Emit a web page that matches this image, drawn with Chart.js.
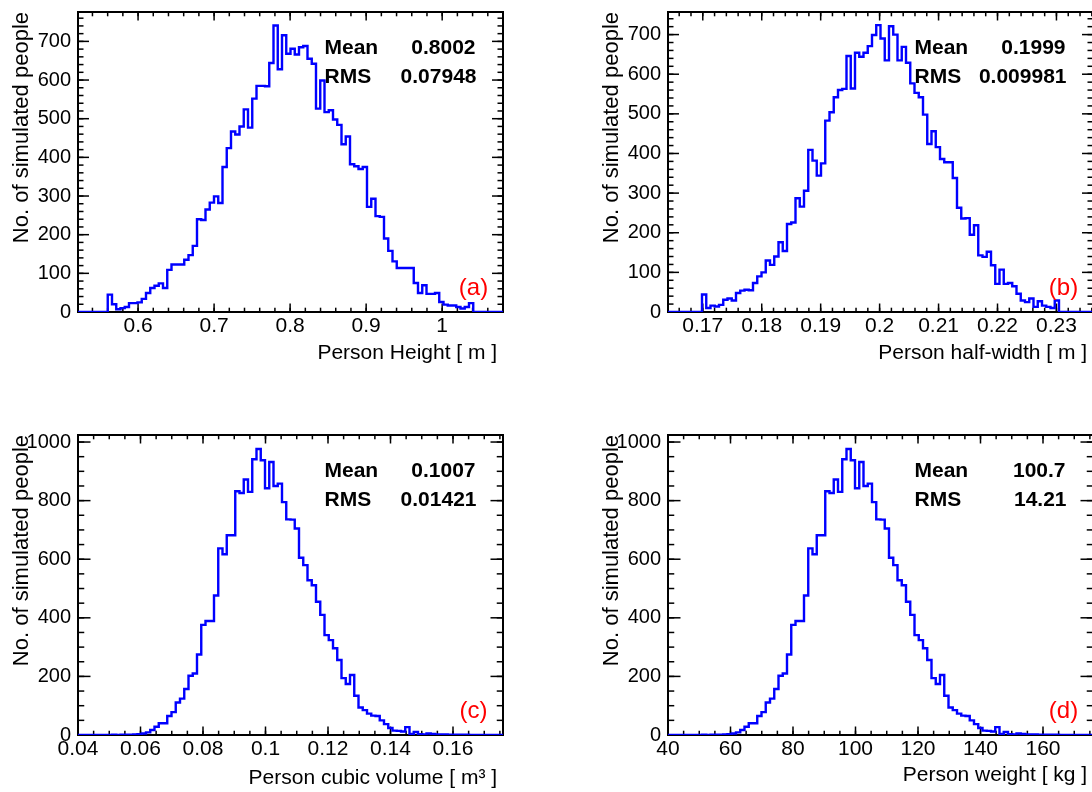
<!DOCTYPE html>
<html>
<head>
<meta charset="utf-8">
<title>Simulated people: height, half-width, volume, weight</title>
<script src="https://cdn.jsdelivr.net/npm/chart.js@4.4.1/dist/chart.umd.min.js"></script>
<style>
  html, body { margin: 0; padding: 0; background: #fff; overflow: hidden; }
  #page { position: relative; width: 1092px; height: 792px; overflow: hidden; background: #fff; }
  #page canvas { position: absolute; }
</style>
</head>
<body>
<div id="page">
  <canvas id="cHeight" width="546" height="400" style="left:0px;top:0px"></canvas>
  <canvas id="cHalfWidth" width="546" height="400" style="left:590px;top:0px"></canvas>
  <canvas id="cVolume" width="546" height="400" style="left:0px;top:423px"></canvas>
  <canvas id="cWeight" width="546" height="400" style="left:590px;top:423px"></canvas>
</div>
<script>
// ---- histogram contents (100 bins each) ----
const heightCounts = [
  0, 0, 0, 0, 0, 0, 0,
  45, 20, 7, 10, 13, 23, 23, 25, 34, 49,
  62, 68, 74, 62, 109, 123, 123, 123, 135, 147,
  171, 240, 238, 265, 283, 299, 282, 375, 424, 467,
  459, 480, 524, 477, 552, 585, 585, 584, 644, 741,
  628, 716, 668, 681, 666, 685, 688, 655, 642, 526,
  599, 517, 522, 498, 484, 434, 454, 382, 377, 370,
  375, 272, 293, 248, 246, 190, 158, 131, 114, 114,
  114, 114, 75, 49, 69, 47, 47, 49, 26, 19,
  17, 17, 13, 9, 13, 23, 0, 0, 0, 0,
  0, 0, 0
];
const halfWidthCounts = [
  0, 0, 0, 0, 0, 0, 0, 0,
  44, 10, 16, 14, 18, 31, 34, 29, 48, 54,
  56, 55, 73, 90, 100, 130, 119, 140, 176, 154,
  222, 226, 287, 266, 306, 409, 382, 344, 375, 483,
  504, 542, 560, 563, 646, 564, 654, 644, 654, 671,
  699, 724, 690, 635, 721, 700, 635, 669, 629, 577,
  553, 542, 498, 424, 456, 416, 386, 378, 378, 338,
  263, 236, 237, 195, 219, 143, 139, 152, 118, 71,
  107, 71, 73, 65, 46, 29, 25, 34, 13, 27,
  16, 13, 10, 29, 0, 0, 0, 0, 0, 0,
  0, 0
];
const volumeCounts = [
  0, 0, 0, 0, 0, 0, 0, 0,
  1, 0, 1, 1, 1, 2, 3, 5, 9, 17,
  28, 40, 40, 65, 78, 111, 124, 157, 202, 210,
  275, 376, 389, 389, 476, 637, 617, 682, 682, 832,
  826, 872, 830, 941, 976, 938, 842, 932, 850, 858,
  795, 736, 735, 705, 605, 580, 528, 511, 455, 410,
  341, 324, 296, 256, 194, 174, 205, 134, 94, 85,
  73, 66, 65, 50, 37, 24, 15, 14, 12, 27,
  4, 10, 3, 2, 5, 4, 2, 2, 2, 1,
  1, 1, 1, 1, 0, 0, 0, 0, 0, 0,
  0, 0
];
const weightCounts = [
  0, 0, 0, 0, 0, 0, 0, 0,
  1, 0, 1, 1, 1, 2, 3, 5, 9, 17,
  28, 40, 40, 65, 78, 111, 124, 157, 202, 210,
  275, 376, 389, 389, 476, 637, 617, 682, 682, 832,
  826, 872, 830, 941, 976, 938, 842, 932, 850, 858,
  795, 736, 735, 705, 605, 580, 528, 511, 455, 410,
  341, 324, 296, 256, 194, 174, 205, 134, 94, 85,
  73, 66, 65, 50, 37, 24, 15, 14, 12, 27,
  4, 10, 3, 2, 5, 4, 2, 2, 2, 1,
  1, 1, 1, 1, 0, 0, 0, 0, 0, 0,
  0, 0
];

// ---- binning (axis range of each histogram) ----
const heightRange = [0.521, 1.080];
const halfWidthRange = [0.1641, 0.2362];
const volumeRange = [0.04, 0.176];
const weightRange = [40, 176];

// ---- axis ticks and labels ----
const heightTicks = [0.6, 0.7, 0.8, 0.9, 1.0];
const heightTickLabels = ['0.6', '0.7', '0.8', '0.9', '1'];
const halfWidthTicks = [0.17, 0.18, 0.19, 0.20, 0.21, 0.22, 0.23];
const halfWidthTickLabels = ['0.17', '0.18', '0.19', '0.2', '0.21', '0.22', '0.23'];
const volumeTicks = [0.04, 0.06, 0.08, 0.10, 0.12, 0.14, 0.16];
const volumeTickLabels = ['0.04', '0.06', '0.08', '0.1', '0.12', '0.14', '0.16'];
const weightTicks = [40, 60, 80, 100, 120, 140, 160];
const weightTickLabels = ['40', '60', '80', '100', '120', '140', '160'];
const countTicks700 = [0, 100, 200, 300, 400, 500, 600, 700];
const countTickLabels700 = ['0', '100', '200', '300', '400', '500', '600', '700'];
const countTicks1000 = [0, 200, 400, 600, 800, 1000];
const countTickLabels1000 = ['0', '200', '400', '600', '800', '1000'];

// ---- statistics boxes ----
const heightStats = { mean: '0.8002', rms: '0.07948', tag: '(a)' };
const halfWidthStats = { mean: '0.1999', rms: '0.009981', tag: '(b)' };
const volumeStats = { mean: '0.1007', rms: '0.01421', tag: '(c)' };
const weightStats = { mean: '100.7', rms: '14.21', tag: '(d)' };

const FONT = "'Liberation Sans', Arial, Helvetica, sans-serif";
Chart.defaults.font.family = FONT;
Chart.defaults.color = '#000';

// Frame with inward major/minor ticks on all four sides, plus stats and panel tag.
const rootFrame = {
  id: 'rootFrame',
  beforeDatasetsDraw(chart, args, o) {
    const { ctx, chartArea: a, scales: { x, y } } = chart;
    ctx.save();
    ctx.strokeStyle = '#000';
    ctx.lineWidth = 1.5;
    const seg = (x1, y1, x2, y2) => { ctx.beginPath(); ctx.moveTo(x1, y1); ctx.lineTo(x2, y2); ctx.stroke(); };
    const xTick = (v, len) => {
      const p = x.getPixelForValue(v);
      seg(p, a.bottom, p, a.bottom - len);
      seg(p, a.top, p, a.top + len);
    };
    const yTick = (v, len) => {
      const p = y.getPixelForValue(v);
      seg(a.left, p, a.left + len, p);
      seg(a.right, p, a.right - len, p);
    };
    const minors = (scale, step, fn, len) => {
      const i0 = Math.ceil(scale.min / step - 1e-6);
      const i1 = Math.floor(scale.max / step + 1e-6);
      for (let i = i0; i <= i1; i++) fn(i * step, len);
    };
    minors(x, o.xMinor, xTick, o.xMinorLen);
    minors(y, o.yMinor, yTick, o.yMinorLen);
    x.ticks.forEach(t => xTick(t.value, o.xMajorLen));
    y.ticks.forEach(t => yTick(t.value, o.yMajorLen));
    ctx.lineWidth = 2;
    ctx.strokeRect(a.left, a.top, a.right - a.left, a.bottom - a.top);
    ctx.restore();
  },
  afterDatasetsDraw(chart, args, o) {
    const { ctx, chartArea: a } = chart;
    ctx.save();
    ctx.fillStyle = '#000';
    ctx.font = 'bold 21px ' + FONT;
    ctx.textBaseline = 'middle';
    ctx.textAlign = 'left';
    ctx.fillText('Mean', a.left + 246.5, a.top + 36);
    ctx.fillText('RMS', a.left + 246.5, a.top + 65.5);
    ctx.textAlign = 'right';
    ctx.fillText(o.stats.mean, a.left + 397.5, a.top + 36);
    ctx.fillText(o.stats.rms, a.left + 398.5, a.top + 65.5);
    ctx.fillStyle = '#ff0000';
    ctx.font = '24px ' + FONT;
    ctx.textAlign = 'center';
    ctx.fillText(o.stats.tag, a.left + 395.5, a.top + 276);
    ctx.restore();
  }
};

function histPoints(counts, range) {
  const n = counts.length;
  const w = (range[1] - range[0]) / n;
  const pts = counts.map((c, k) => ({ x: range[0] + k * w, y: c }));
  pts.push({ x: range[1], y: counts[n - 1] });
  return pts;
}

function makePanel(id, p) {
  return new Chart(document.getElementById(id), {
    type: 'line',
    data: {
      datasets: [{
        data: histPoints(p.counts, p.range),
        borderColor: '#0000ff',
        borderWidth: 2.4,
        pointRadius: 0,
        stepped: 'before',
        fill: false,
        tension: 0
      }]
    },
    options: {
      responsive: false,
      devicePixelRatio: 1,
      animation: false,
      events: [],
      layout: { padding: { left: 0, top: 12, right: 43, bottom: 0 } },
      plugins: {
        legend: { display: false },
        tooltip: { enabled: false },
        rootFrame: {
          xMinor: p.xMinor, yMinor: p.yMinor,
          xMajorLen: 8.5, xMinorLen: 4.3, yMajorLen: p.yMajorLen, yMinorLen: p.yMajorLen / 2,
          stats: p.stats
        }
      },
      scales: {
        x: {
          type: 'linear',
          min: p.range[0],
          max: p.range[1],
          afterBuildTicks: s => { s.ticks = p.xTicks.map(v => ({ value: v })); },
          afterFit: s => { s.height = 88; },
          grid: { display: false, drawTicks: false },
          border: { display: false },
          ticks: {
            autoSkip: false, maxRotation: 0, minRotation: 0, padding: 2,
            font: { size: 21 },
            callback: (v, i) => p.xLabels[i]
          },
          title: {
            display: true, text: p.xTitle, align: 'end',
            font: { size: 21 }, padding: { top: 0, bottom: p.xTitlePad }
          }
        },
        y: {
          type: 'linear',
          min: 0,
          max: p.yMax,
          afterBuildTicks: s => { s.ticks = p.yTicks.map(v => ({ value: v })); },
          afterFit: s => { s.width = 78; },
          grid: { display: false, drawTicks: false },
          border: { display: false },
          ticks: {
            autoSkip: false, padding: 7,
            font: { size: 20, lineHeight: 0.2 },
            callback: (v, i) => p.yLabels[i]
          },
          title: {
            display: true, text: 'No. of simulated people', align: 'end',
            font: { size: 22 }, padding: { top: 8.5, bottom: 0 }
          }
        }
      }
    },
    plugins: [rootFrame]
  });
}

makePanel('cHeight', {
  counts: heightCounts, range: heightRange, yMax: 776,
  xTicks: heightTicks, xLabels: heightTickLabels, xMinor: 0.02,
  yTicks: countTicks700, yLabels: countTickLabels700, yMinor: 20, yMajorLen: 11,
  xTitle: 'Person Height [ m ]\u00a0', xTitlePad: 34.4, stats: heightStats
});
makePanel('cHalfWidth', {
  counts: halfWidthCounts, range: halfWidthRange, yMax: 757,
  xTicks: halfWidthTicks, xLabels: halfWidthTickLabels, xMinor: 0.002,
  yTicks: countTicks700, yLabels: countTickLabels700, yMinor: 20, yMajorLen: 11,
  xTitle: 'Person half-width [ m ]\u00a0', xTitlePad: 34.4, stats: halfWidthStats
});
makePanel('cVolume', {
  counts: volumeCounts, range: volumeRange, yMax: 1024,
  xTicks: volumeTicks, xLabels: volumeTickLabels, xMinor: 0.005,
  yTicks: countTicks1000, yLabels: countTickLabels1000, yMinor: 50, yMajorLen: 12.5,
  xTitle: 'Person cubic volume [ m\u00b3 ]\u00a0', xTitlePad: 31.7, stats: volumeStats
});
makePanel('cWeight', {
  counts: weightCounts, range: weightRange, yMax: 1024,
  xTicks: weightTicks, xLabels: weightTickLabels, xMinor: 5,
  yTicks: countTicks1000, yLabels: countTickLabels1000, yMinor: 50, yMajorLen: 12.5,
  xTitle: 'Person weight [ kg ]\u00a0', xTitlePad: 35, stats: weightStats
});
</script>
</body>
</html>
